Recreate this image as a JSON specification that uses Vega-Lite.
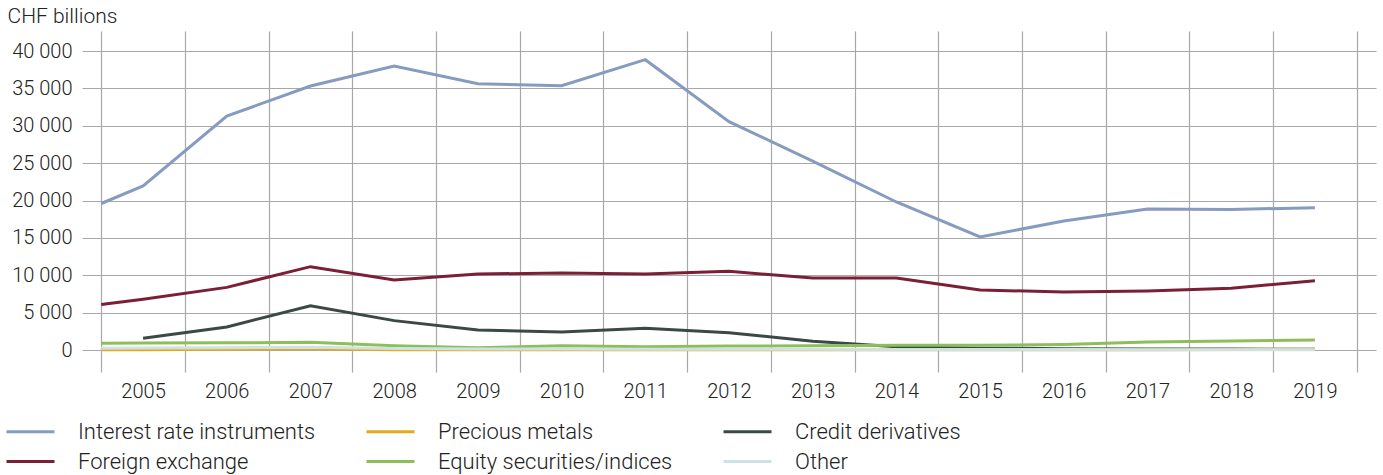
{
  "$schema": "https://vega.github.io/schema/vega-lite/v6.json",
  "autosize": {"type": "none"},
  "padding": {"left": 82, "top": 31, "right": 7, "bottom": 103},
  "width": 1294,
  "height": 341,
  "config": {
    "view": {"stroke": null},
    "font": "Roboto",
    "axis": {"labelFont": "Roboto", "labelFontSize": 20, "labelFontWeight": 300, "labelColor": "#222222", "gridColor": "#a8a8a8", "gridWidth": 1.2, "domain": false, "ticks": false},
    "legend": {"labelFont": "Roboto", "labelFontSize": 22, "labelFontWeight": 300, "labelColor": "#222222", "labelLimit": 400}
  },
  "data": {"values": [
    {"year": 2004.5, "series": "Interest rate instruments", "value": 19600},
    {"year": 2005, "series": "Interest rate instruments", "value": 21940},
    {"year": 2006, "series": "Interest rate instruments", "value": 31300},
    {"year": 2007, "series": "Interest rate instruments", "value": 35320},
    {"year": 2008, "series": "Interest rate instruments", "value": 38000},
    {"year": 2009, "series": "Interest rate instruments", "value": 35630},
    {"year": 2010, "series": "Interest rate instruments", "value": 35360},
    {"year": 2011, "series": "Interest rate instruments", "value": 38840},
    {"year": 2012, "series": "Interest rate instruments", "value": 30540},
    {"year": 2013, "series": "Interest rate instruments", "value": 25280},
    {"year": 2014, "series": "Interest rate instruments", "value": 19800},
    {"year": 2015, "series": "Interest rate instruments", "value": 15120},
    {"year": 2016, "series": "Interest rate instruments", "value": 17260},
    {"year": 2017, "series": "Interest rate instruments", "value": 18860},
    {"year": 2018, "series": "Interest rate instruments", "value": 18800},
    {"year": 2019, "series": "Interest rate instruments", "value": 19040},
    {"year": 2004.5, "series": "Foreign exchange", "value": 6100},
    {"year": 2005, "series": "Foreign exchange", "value": 6780},
    {"year": 2006, "series": "Foreign exchange", "value": 8380},
    {"year": 2007, "series": "Foreign exchange", "value": 11150},
    {"year": 2008, "series": "Foreign exchange", "value": 9360},
    {"year": 2009, "series": "Foreign exchange", "value": 10170},
    {"year": 2010, "series": "Foreign exchange", "value": 10300},
    {"year": 2011, "series": "Foreign exchange", "value": 10170},
    {"year": 2012, "series": "Foreign exchange", "value": 10520},
    {"year": 2013, "series": "Foreign exchange", "value": 9630},
    {"year": 2014, "series": "Foreign exchange", "value": 9630},
    {"year": 2015, "series": "Foreign exchange", "value": 8030},
    {"year": 2016, "series": "Foreign exchange", "value": 7760},
    {"year": 2017, "series": "Foreign exchange", "value": 7890},
    {"year": 2018, "series": "Foreign exchange", "value": 8250},
    {"year": 2019, "series": "Foreign exchange", "value": 9280},
    {"year": 2005, "series": "Credit derivatives", "value": 1560},
    {"year": 2006, "series": "Credit derivatives", "value": 3080},
    {"year": 2007, "series": "Credit derivatives", "value": 5930},
    {"year": 2008, "series": "Credit derivatives", "value": 3930},
    {"year": 2009, "series": "Credit derivatives", "value": 2680},
    {"year": 2010, "series": "Credit derivatives", "value": 2410},
    {"year": 2011, "series": "Credit derivatives", "value": 2900},
    {"year": 2012, "series": "Credit derivatives", "value": 2320},
    {"year": 2013, "series": "Credit derivatives", "value": 1160},
    {"year": 2014, "series": "Credit derivatives", "value": 450},
    {"year": 2015, "series": "Credit derivatives", "value": 250},
    {"year": 2016, "series": "Credit derivatives", "value": 180},
    {"year": 2017, "series": "Credit derivatives", "value": 150},
    {"year": 2018, "series": "Credit derivatives", "value": 120},
    {"year": 2019, "series": "Credit derivatives", "value": 110},
    {"year": 2004.5, "series": "Equity securities/indices", "value": 900},
    {"year": 2005, "series": "Equity securities/indices", "value": 950},
    {"year": 2006, "series": "Equity securities/indices", "value": 960},
    {"year": 2007, "series": "Equity securities/indices", "value": 1030},
    {"year": 2008, "series": "Equity securities/indices", "value": 580},
    {"year": 2009, "series": "Equity securities/indices", "value": 310},
    {"year": 2010, "series": "Equity securities/indices", "value": 580},
    {"year": 2011, "series": "Equity securities/indices", "value": 450},
    {"year": 2012, "series": "Equity securities/indices", "value": 520},
    {"year": 2013, "series": "Equity securities/indices", "value": 580},
    {"year": 2014, "series": "Equity securities/indices", "value": 620},
    {"year": 2015, "series": "Equity securities/indices", "value": 620},
    {"year": 2016, "series": "Equity securities/indices", "value": 750},
    {"year": 2017, "series": "Equity securities/indices", "value": 1070},
    {"year": 2018, "series": "Equity securities/indices", "value": 1200},
    {"year": 2019, "series": "Equity securities/indices", "value": 1340},
    {"year": 2004.5, "series": "Precious metals", "value": 30},
    {"year": 2005, "series": "Precious metals", "value": 50},
    {"year": 2006, "series": "Precious metals", "value": 100},
    {"year": 2007, "series": "Precious metals", "value": 160},
    {"year": 2008, "series": "Precious metals", "value": 20},
    {"year": 2009, "series": "Precious metals", "value": 20},
    {"year": 2010, "series": "Precious metals", "value": 30},
    {"year": 2011, "series": "Precious metals", "value": 30},
    {"year": 2012, "series": "Precious metals", "value": 40},
    {"year": 2013, "series": "Precious metals", "value": 30},
    {"year": 2014, "series": "Precious metals", "value": 30},
    {"year": 2015, "series": "Precious metals", "value": 30},
    {"year": 2016, "series": "Precious metals", "value": 40},
    {"year": 2017, "series": "Precious metals", "value": 50},
    {"year": 2018, "series": "Precious metals", "value": 70},
    {"year": 2019, "series": "Precious metals", "value": 100},
    {"year": 2004.5, "series": "Other", "value": 250},
    {"year": 2005, "series": "Other", "value": 260},
    {"year": 2006, "series": "Other", "value": 300},
    {"year": 2007, "series": "Other", "value": 380},
    {"year": 2008, "series": "Other", "value": 200},
    {"year": 2009, "series": "Other", "value": 120},
    {"year": 2010, "series": "Other", "value": 120},
    {"year": 2011, "series": "Other", "value": 100},
    {"year": 2012, "series": "Other", "value": 100},
    {"year": 2013, "series": "Other", "value": 90},
    {"year": 2014, "series": "Other", "value": 80},
    {"year": 2015, "series": "Other", "value": 70},
    {"year": 2016, "series": "Other", "value": 60},
    {"year": 2017, "series": "Other", "value": 50},
    {"year": 2018, "series": "Other", "value": 50},
    {"year": 2019, "series": "Other", "value": 50}
  ]},
  "mark": {"type": "line", "strokeWidth": 3, "clip": true},
  "encoding": {
    "x": {
      "field": "year", "type": "quantitative",
      "scale": {"domain": [2004.27, 2019.73], "nice": false, "zero": false},
      "axis": {
        "title": null,
        "values": [2004.5, 2005.5, 2006.5, 2007.5, 2008.5, 2009.5, 2010.5, 2011.5, 2012.5, 2013.5, 2014.5, 2015.5, 2016.5, 2017.5, 2018.5, 2019.5],
        "labelExpr": "datum.value > 2019 ? '' : format(datum.value + 0.5, 'd')",
        "labelPadding": 9,
        "labelOverlap": false,
        "labelFlush": false,
        "labelOffset": 41.8
      }
    },
    "y": {
      "field": "value", "type": "quantitative",
      "scale": {"domain": [-2943, 42676], "nice": false, "zero": false},
      "axis": {
        "values": [0, 5000, 10000, 15000, 20000, 25000, 30000, 35000, 40000],
        "labelExpr": "replace(format(datum.value, ','), ',', ' ')",
        "labelPadding": 10,
        "title": "CHF billions",
        "titleAngle": 0,
        "titleAlign": "left",
        "titleBaseline": "middle",
        "titleX": -75,
        "titleY": -15,
        "titleFont": "Roboto",
        "titleFontSize": 21,
        "titleFontWeight": 300,
        "titleColor": "#222222"
      }
    },
    "color": {
      "field": "series", "type": "nominal",
      "scale": {
        "domain": ["Interest rate instruments", "Precious metals", "Credit derivatives", "Foreign exchange", "Equity securities/indices", "Other"],
        "range": ["#859bbf", "#e5a91c", "#3c4845", "#7b1f37", "#8dbf59", "#cde2e5"]
      },
      "legend": {
        "title": null,
        "orient": "none",
        "legendX": -65,
        "legendY": 387,
        "direction": "horizontal",
        "columns": 3,
        "columnPadding": 44,
        "rowPadding": 5,
        "symbolType": "M-2,0H2",
        "symbolSize": 576,
        "symbolStrokeWidth": 3,
        "symbolFillColor": "transparent",
        "labelOffset": 34
      }
    }
  }
}
